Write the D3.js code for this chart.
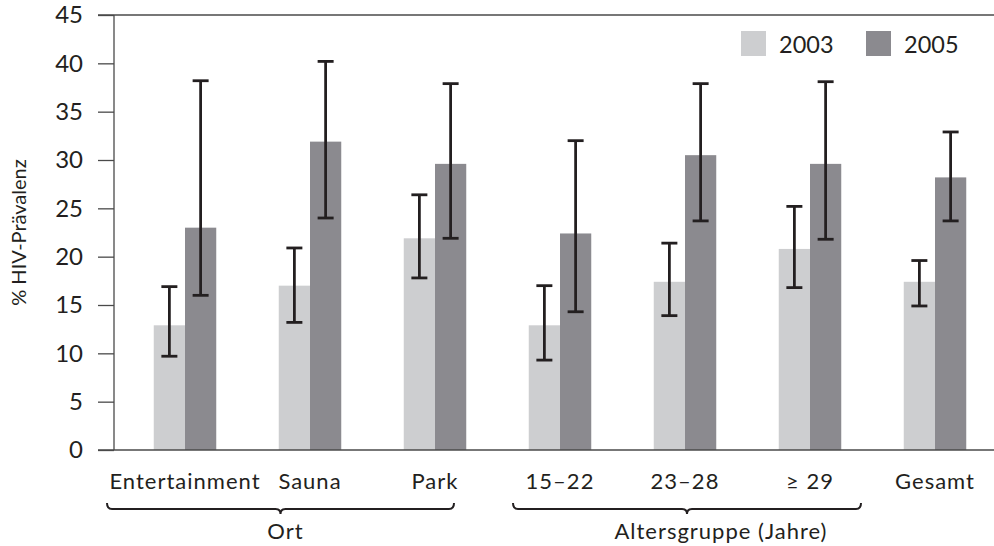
<!DOCTYPE html>
<html><head><meta charset="utf-8">
<script src="https://cdn.jsdelivr.net/npm/d3@7"></script>
<style>
html,body{margin:0;padding:0;background:#fff;}
svg{display:block;font-family:Lato,"Open Sans",sans-serif;}
</style></head>
<body>
<svg id="chart" width="994" height="546"></svg>
<script>
const categories = ["Entertainment","Sauna","Park","15–22","23–28","≥ 29","Gesamt"];
const seriesNames = ["2003","2005"];
const values2003 = [12.9, 17.0, 21.9, 12.9, 17.4, 20.8, 17.4];
const values2005 = [23.0, 31.9, 29.6, 22.4, 30.5, 29.6, 28.2];
const low2003  = [9.7, 13.2, 17.8, 9.3, 13.9, 16.8, 14.9];
const high2003 = [16.9, 20.9, 26.4, 17.0, 21.4, 25.2, 19.6];
const low2005  = [16.0, 24.0, 21.9, 14.3, 23.7, 21.8, 23.7];
const high2005 = [38.2, 40.2, 37.9, 32.0, 37.9, 38.1, 32.9];
const yTicks = [0,5,10,15,20,25,30,35,40,45];
const groupLabels = ["Ort","Altersgruppe (Jahre)"];
const groupFrom = [0, 3];
const groupTo = [2, 5];
const yTitle = "% HIV-Prävalenz";

const colors = ["#cdced0","#8b8a8f"];
const ink = "#231f20";
const axisCol = "#4a4a4a";

const svg = d3.select("#chart");
const W = 994;
const x0 = 114, yTop = 15, yBot = 450;

const x = d3.scaleBand().domain(categories).range([122.5, 997.5]).paddingInner(0.5).paddingOuter(0.25);
const xs = d3.scaleBand().domain(seriesNames).range([0, x.bandwidth()]);
const y = d3.scaleLinear().domain([0,45]).range([yBot, yTop]);

// axis
const yAxis = d3.axisLeft(y).tickValues(yTicks).tickSize(16).tickPadding(15);
const gy = svg.append("g").attr("transform", `translate(${x0},0)`).call(yAxis);
gy.select(".domain").remove();
gy.selectAll(".tick line").attr("stroke", axisCol).attr("stroke-width", 1.3);
gy.selectAll(".tick text").attr("fill", ink).attr("font-size", 24).attr("font-family","Lato");
svg.append("line").attr("x1", x0).attr("x2", x0).attr("y1", y(45)).attr("y2", y(0))
  .attr("stroke", axisCol).attr("stroke-width", 1.3);

// bars
const data = categories.map((c,i)=>({c, vals:[
  {s:"2003", v:values2003[i], lo:low2003[i], hi:high2003[i]},
  {s:"2005", v:values2005[i], lo:low2005[i], hi:high2005[i]}]}));

const g = svg.append("g");
const grp = g.selectAll("g.grp").data(data).join("g").attr("class","grp")
  .attr("transform", d=>`translate(${x(d.c)},0)`);
grp.selectAll("rect").data(d=>d.vals).join("rect")
  .attr("x", d=>xs(d.s)).attr("width", xs.bandwidth())
  .attr("y", d=>y(d.v)).attr("height", d=>y(0)-y(d.v))
  .attr("fill", (d,i)=>colors[i]);

// horizontal top and zero lines
[0,45].forEach(v=>{
  svg.append("line").attr("x1", 98).attr("x2", W).attr("y1", y(v)).attr("y2", y(v))
    .attr("stroke", axisCol).attr("stroke-width", 1.5);
});

// error bars
const eb = grp.selectAll("g.eb").data(d=>d.vals).join("g").attr("class","eb")
  .attr("transform", d=>`translate(${xs(d.s)+xs.bandwidth()/2},0)`);
eb.append("line").attr("x1",0).attr("x2",0).attr("y1",d=>y(d.hi)).attr("y2",d=>y(d.lo))
  .attr("stroke", ink).attr("stroke-width", 2.8);
eb.append("line").attr("x1",-8).attr("x2",8).attr("y1",d=>y(d.hi)).attr("y2",d=>y(d.hi))
  .attr("stroke", ink).attr("stroke-width", 2.8);
eb.append("line").attr("x1",-8).attr("x2",8).attr("y1",d=>y(d.lo)).attr("y2",d=>y(d.lo))
  .attr("stroke", ink).attr("stroke-width", 2.8);

// category labels
svg.append("g").selectAll("text").data(categories).join("text")
  .attr("x", d=>x(d)+x.bandwidth()/2).attr("y", 489)
  .attr("text-anchor","middle").attr("font-size", 22).attr("fill", ink)
  .attr("letter-spacing", 1.0)
  .text(d=>d);

// braces
const bracePadL = [78, 47], bracePadR = [19, 51], labelShift = [5, 34];
groupLabels.forEach((lab,i)=>{
  const c1 = x(categories[groupFrom[i]]) + x.bandwidth()/2;
  const c2 = x(categories[groupTo[i]]) + x.bandwidth()/2;
  const L = c1 - bracePadL[i], R = c2 + bracePadR[i], M = (L+R)/2;
  const yt = 503, yl = 509, ytip = 514, r = 5;
  const p = d3.path();
  p.moveTo(L, yt);
  p.quadraticCurveTo(L, yl, L + r, yl);
  p.lineTo(M - r, yl);
  p.quadraticCurveTo(M, yl, M, ytip);
  p.quadraticCurveTo(M, yl, M + r, yl);
  p.lineTo(R - r, yl);
  p.quadraticCurveTo(R, yl, R, yt);
  svg.append("path").attr("d", p.toString()).attr("fill","none")
    .attr("stroke", ink).attr("stroke-width", 2);
  svg.append("text").attr("x", M + labelShift[i]).attr("y", 539)
    .attr("text-anchor","middle").attr("font-size", 22).attr("fill", ink)
    .attr("letter-spacing", 1.0).text(lab);
});

// y title
svg.append("text").attr("transform", `translate(26,${(yTop+yBot)/2}) rotate(-90)`)
  .attr("text-anchor","middle").attr("font-size", 20).attr("fill", ink).text(yTitle);

// legend
const legX = [741, 866];
seriesNames.forEach((s,i)=>{
  svg.append("rect").attr("x", legX[i]).attr("y", 31).attr("width", 25).attr("height", 25).attr("fill", colors[i]);
  svg.append("text").attr("x", legX[i]+38).attr("y", 53).attr("font-size", 23.5).attr("fill", ink).text(s);
});
</script>
</body></html>
